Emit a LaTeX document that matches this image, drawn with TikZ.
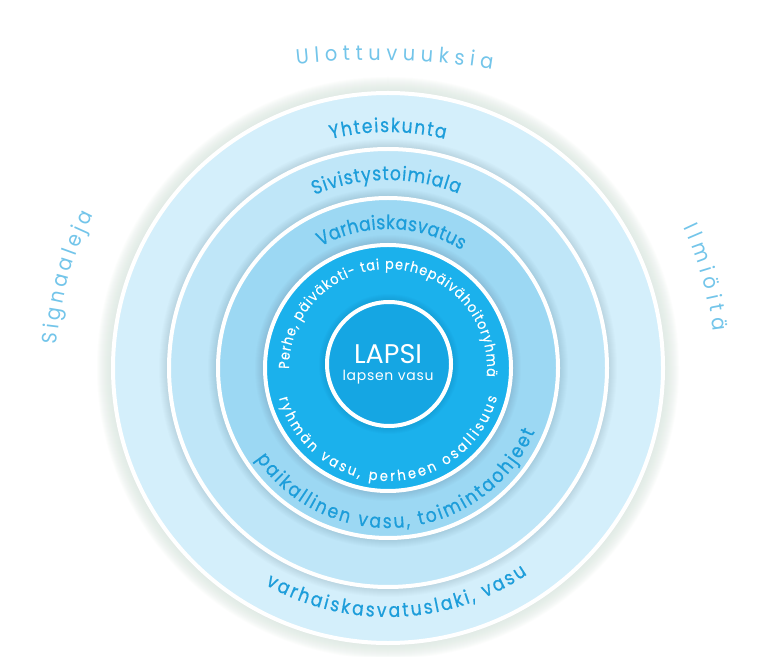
\documentclass[tikz,border=0pt]{standalone}
\usepackage{fontspec}
\setmainfont{Poppins}
\usetikzlibrary{decorations.text}
\definecolor{bandA}{HTML}{D4EFFB}
\definecolor{bandB}{HTML}{BFE6F8}
\definecolor{bandC}{HTML}{9CD8F3}
\definecolor{bandD}{HTML}{1BB1EC}
\definecolor{coreE}{HTML}{15A6E3}
\definecolor{bandtxt}{HTML}{1C9DDA}
\definecolor{outtxt}{HTML}{73C5EA}
\definecolor{glowc}{HTML}{D8E6DE}
\newcommand\bandf{\fontsize{19.5}{19.5}\selectfont\addfontfeature{FakeBold=0.7,FakeStretch=0.88}}
\newcommand\outf{\fontsize{21}{21}\selectfont\addfontfeature{FakeStretch=0.92}}
\newcommand\ringf{\fontsize{14.5}{14.5}\selectfont\addfontfeature{FakeBold=0.4,FakeStretch=0.88}}
\newcommand\ringg{\fontsize{14.5}{14.5}\selectfont\addfontfeature{FakeBold=0.4,FakeStretch=0.9}}
\tikzset{
  curv/.style={decorate, decoration={text along path, text align={fit to path}}},
  disc/.style={draw=white, line width=4pt},
}
\begin{document}
\begin{tikzpicture}[x=1pt,y=1pt]
\useasboundingbox (0,0) rectangle (762,656);
\fill[white] (0,0) rectangle (762,656);
\coordinate (C) at (388,288);
\coordinate (CI) at (389,292);
% glow around outer circle
\foreach \i in {1,...,16} \fill[glowc, opacity=0.07] (C) circle ({275+\i});
% discs
\fill[bandA, disc] (C) circle (275);
\foreach \i in {0,...,8} \fill[black, opacity=0.010] (C) circle ({221+\i});
\fill[bandB, disc] (C) circle (219);
\foreach \i in {0,...,8} \fill[black, opacity=0.010] (C) circle ({172+\i});
\fill[bandC, disc] (C) circle (170);
\foreach \i in {0,...,8} \fill[black, opacity=0.012] (C) circle ({125+\i});
\fill[bandD, disc] (C) circle (123);
\foreach \i in {0,...,6} \fill[black, opacity=0.012] (CI) circle ({64+\i});
\fill[coreE, disc] (CI) circle (62);
% centre texts
\node[text=white, font=\fontsize{27}{27}\selectfont] (lapsi) at (388,302) {LAPSI};
\node[text=white, font=\fontsize{14}{14}\selectfont\addfontfeature{LetterSpace=5}] (lvasu) at (388,279) {lapsen vasu};
% band labels (top)
\path[shift={(C)}, curv, decoration={text={|\bandf\color{bandtxt}|Yhteiskunta}}]
  (104:236) arc[start angle=104, end angle=76, radius=236];
\path[shift={(C)}, curv, decoration={text={|\bandf\color{bandtxt}|Sivistystoimiala}}]
  (113:188) arc[start angle=113, end angle=68, radius=188];
\path[shift={(C)}, curv, decoration={text={|\bandf\color{bandtxt}|Varhaiskasvatus}}]
  (119:139) arc[start angle=119, end angle=58, radius=139];
% ring texts
\path[shift={(C)}, curv, decoration={text={|\ringf\color{white}|Perhe, päiväkoti- tai perhepäivähoitoryhmä}}]
  (180.5:99) arc[start angle=180.5, end angle=-5, radius=99];
\path[shift={(C)}, curv, decoration={text={|\ringg\color{white}|ryhmän vasu, perheen osallisuus}}]
  (195.5:113) arc[start angle=195.5, end angle=345, radius=113];
% band labels (bottom)
\path[shift={(C)}, curv, decoration={text={|\bandf\color{bandtxt}|paikallinen vasu, toimintaohjeet}}]
  (214.5:160) arc[start angle=214.5, end angle=336.5, radius=160];
\path[shift={(C)}, curv, decoration={text={|\bandf\color{bandtxt}|varhaiskasvatuslaki, vasu}}]
  (240.5:249) arc[start angle=240.5, end angle=304, radius=249];
% outer labels
\path[shift={(C)}, curv, decoration={text={|\outf\color{outtxt}|Signaaleja}}]
  (176:332) arc[start angle=176, end angle=152.5, radius=332];
\path[shift={(C)}, curv, decoration={text={|\outf\color{outtxt}|Ilmiöitä}}]
  (25.5:327) arc[start angle=25.5, end angle=6.5, radius=327];
\path[shift={(375,-154)}, curv, decoration={text={|\outf\color{outtxt}|Ulottuvuuksia}}]
  (96:750) arc[start angle=96, end angle=81, radius=750];
\end{tikzpicture}
\end{document}
